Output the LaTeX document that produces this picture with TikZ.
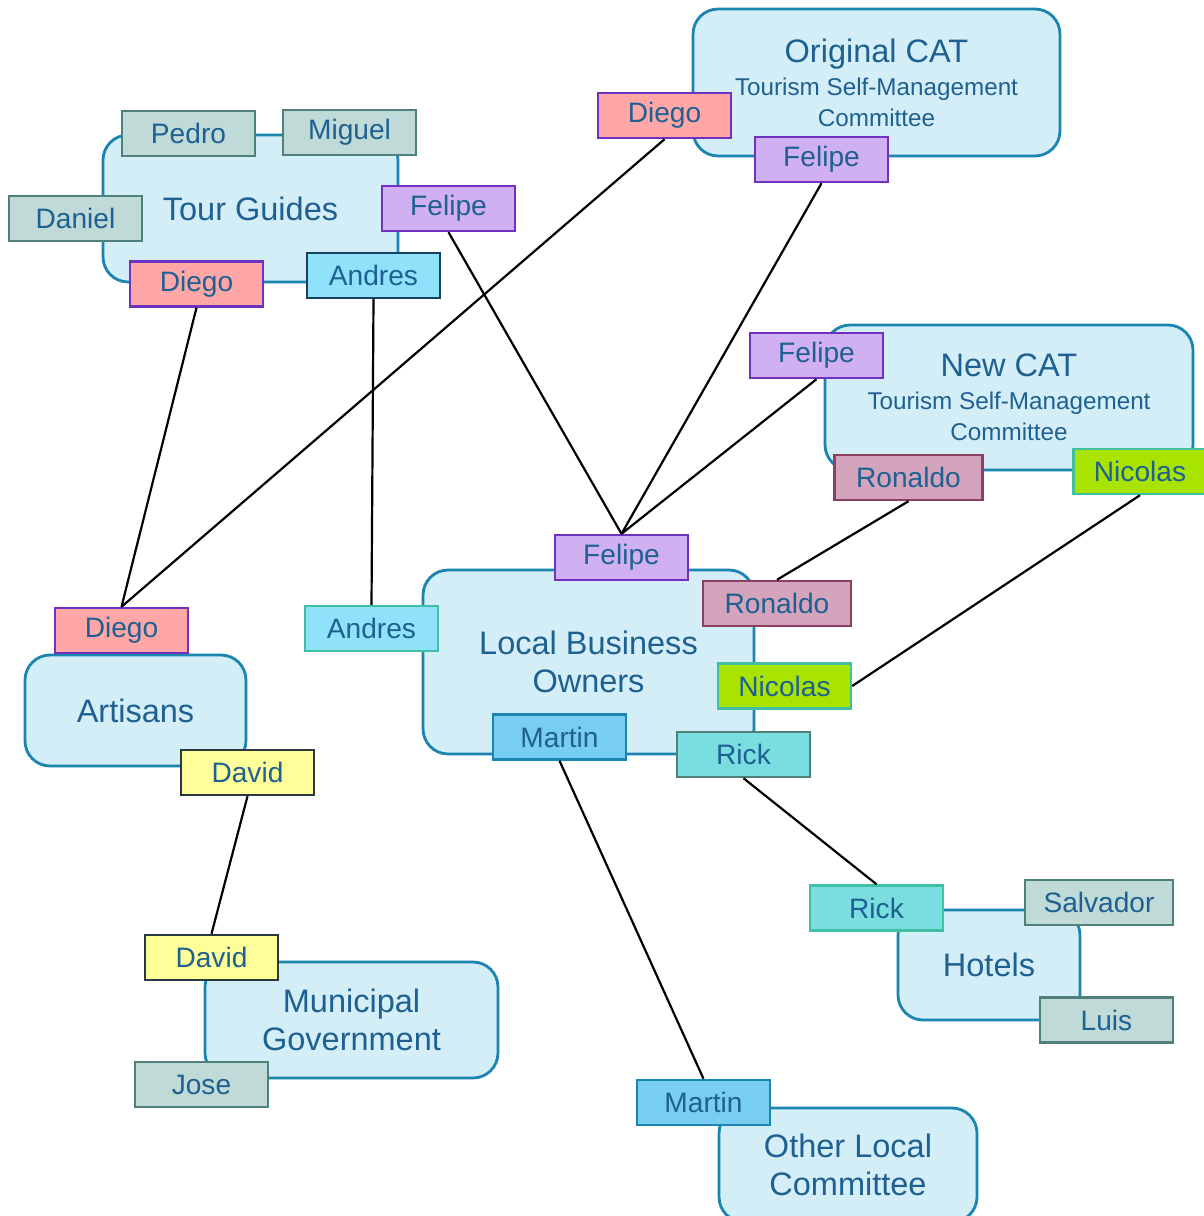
\documentclass[tikz,border=0pt]{standalone}
\usepackage{fontspec}
\setmainfont{Liberation Sans}
\usetikzlibrary{positioning}

\definecolor{groupfill}{RGB}{212,238,248}
\definecolor{groupline}{RGB}{26,134,176}
\definecolor{labeltext}{RGB}{30,96,145}
\definecolor{greyfill}{RGB}{192,218,216}
\definecolor{greyline}{RGB}{80,128,122}
\definecolor{lilacfill}{RGB}{208,176,240}
\definecolor{purpleline}{RGB}{112,48,192}
\definecolor{salmonfill}{RGB}{255,166,166}
\definecolor{skyfill}{RGB}{144,226,250}
\definecolor{navyline}{RGB}{24,64,96}
\definecolor{mintline}{RGB}{64,192,160}
\definecolor{rosefill}{RGB}{212,164,188}
\definecolor{roseline}{RGB}{138,64,96}
\definecolor{limefill}{RGB}{168,228,0}
\definecolor{bluefill}{RGB}{120,206,240}
\definecolor{aquafill}{RGB}{122,222,224}
\definecolor{lemonfill}{RGB}{255,255,153}
\definecolor{darkline}{RGB}{40,56,64}

\begin{document}
\begin{tikzpicture}[x=0.02cm, y=-0.02cm,
                    group/.style={rectangle, draw=groupline, fill=groupfill, line width=1.6pt, rounded corners=0.5cm, inner sep=0pt, text=labeltext, align=center, font=\fontsize{18.5}{21.8}\selectfont},
                    tag/.style={rectangle, draw, line width=1.4pt, minimum width=2.66cm, minimum height=0.9cm, inner sep=0pt, text=labeltext, font=\fontsize{16}{18}\selectfont},
                    wide/.style={minimum width=2.96cm},
                    guide/.style={tag, fill=greyfill, draw=greyline},
                    felipe/.style={tag, fill=lilacfill, draw=purpleline},
                    diego/.style={tag, fill=salmonfill, draw=purpleline},
                    andres/.style={tag, fill=skyfill, draw=navyline},
                    ronaldo/.style={tag, wide, fill=rosefill, draw=roseline},
                    nicolas/.style={tag, fill=limefill, draw=mintline},
                    martin/.style={tag, fill=bluefill, draw=groupline},
                    rick/.style={tag, fill=aquafill, draw=greyline},
                    david/.style={tag, fill=lemonfill, draw=darkline},
                    link/.style={line width=1.25pt, black}]

    \useasboundingbox (0,0) rectangle (1203,1216);

    % Groups
    \node[group, minimum width=7.34cm, minimum height=2.94cm] (origcat) at (876.5,82.5)
        {Original CAT\\[-3pt]{\fontsize{13.8}{17}\selectfont Tourism Self-Management}\\[-4pt]{\fontsize{13.8}{17}\selectfont Committee}};
    \node[group, minimum width=5.9cm, minimum height=2.94cm] (tourguides) at (250.5,208.5) {Tour Guides};
    \node[group, minimum width=7.36cm, minimum height=2.9cm] (newcat) at (1009,397.5)
        {New CAT\\[-3pt]{\fontsize{13.8}{17}\selectfont Tourism Self-Management}\\[-4pt]{\fontsize{13.8}{17}\selectfont Committee}};
    \node[group, minimum width=6.62cm, minimum height=3.68cm] (localbiz) at (588.5,662) {Local Business\\Owners};
    \node[group, minimum width=4.42cm, minimum height=2.22cm] (artisans) at (135.5,710.5) {Artisans};
    \node[group, minimum width=5.86cm, minimum height=2.32cm] (municipal) at (351.5,1020) {Municipal\\Government};
    \node[group, minimum width=3.64cm, minimum height=2.2cm] (hotels) at (989,965) {Hotels};
    \node[group, minimum width=5.16cm, minimum height=2.28cm] (otherlocal) at (848,1165) {Other Local\\Committee};

    % Members
    \node[guide] (tgPedro) at (188.5,133.5) {Pedro};
    \node[guide] (tgMiguel) at (349.5,132.5) {Miguel};
    \node[guide] (tgDaniel) at (75.5,218.5) {Daniel};
    \node[felipe] (tgFelipe) at (448.5,208.5) {Felipe};
    \node[diego] (tgDiego) at (196.5,284) {Diego};
    \node[andres] (tgAndres) at (373.5,275.5) {Andres};

    \node[diego] (ocDiego) at (664.5,115.5) {Diego};
    \node[felipe] (ocFelipe) at (821.5,159.5) {Felipe};

    \node[felipe] (ncFelipe) at (816.5,355.5) {Felipe};
    \node[ronaldo] (ncRonaldo) at (908.5,477.5) {Ronaldo};
    \node[nicolas] (ncNicolas) at (1140,471.5) {Nicolas};

    \node[felipe] (lbFelipe) at (621.5,557.5) {Felipe};
    \node[ronaldo] (lbRonaldo) at (777,603.5) {Ronaldo};
    \node[nicolas] (lbNicolas) at (784.5,686) {Nicolas};
    \node[martin] (lbMartin) at (559.5,737) {Martin};
    \node[rick] (lbRick) at (743.5,754.5) {Rick};
    \node[andres, draw=mintline] (lbAndres) at (371.5,628.5) {Andres};

    \node[diego] (arDiego) at (121.5,630.5) {Diego};
    \node[david] (arDavid) at (247.5,772.5) {David};

    \node[david] (muDavid) at (211.5,957.5) {David};
    \node[guide] (muJose) at (201.5,1084.5) {Jose};

    \node[rick, draw=mintline] (hoRick) at (876.5,908) {Rick};
    \node[guide, wide] (hoSalvador) at (1099,902.5) {Salvador};
    \node[guide] (hoLuis) at (1106.5,1020) {Luis};

    \node[martin] (olMartin) at (703.5,1102.5) {Martin};

    % Links
    \draw[link] (tgDiego.south) -- (arDiego.north);
    \draw[link] (ocDiego.south) -- (arDiego.north);
    \draw[link] (tgAndres.south) -- (lbAndres.north);
    \draw[link] (tgFelipe.south) -- (lbFelipe.north);
    \draw[link] (ocFelipe.south) -- (lbFelipe.north);
    \draw[link] (ncFelipe.south) -- (lbFelipe.north);
    \draw[link] (ncRonaldo.south) -- (lbRonaldo.north);
    \draw[link] (ncNicolas.south) -- (lbNicolas.east);
    \draw[link] (lbRick.south) -- (hoRick.north);
    \draw[link] (lbMartin.south) -- (olMartin.north);
    \draw[link] (arDavid.south) -- (muDavid.north);

\end{tikzpicture}
\end{document}
